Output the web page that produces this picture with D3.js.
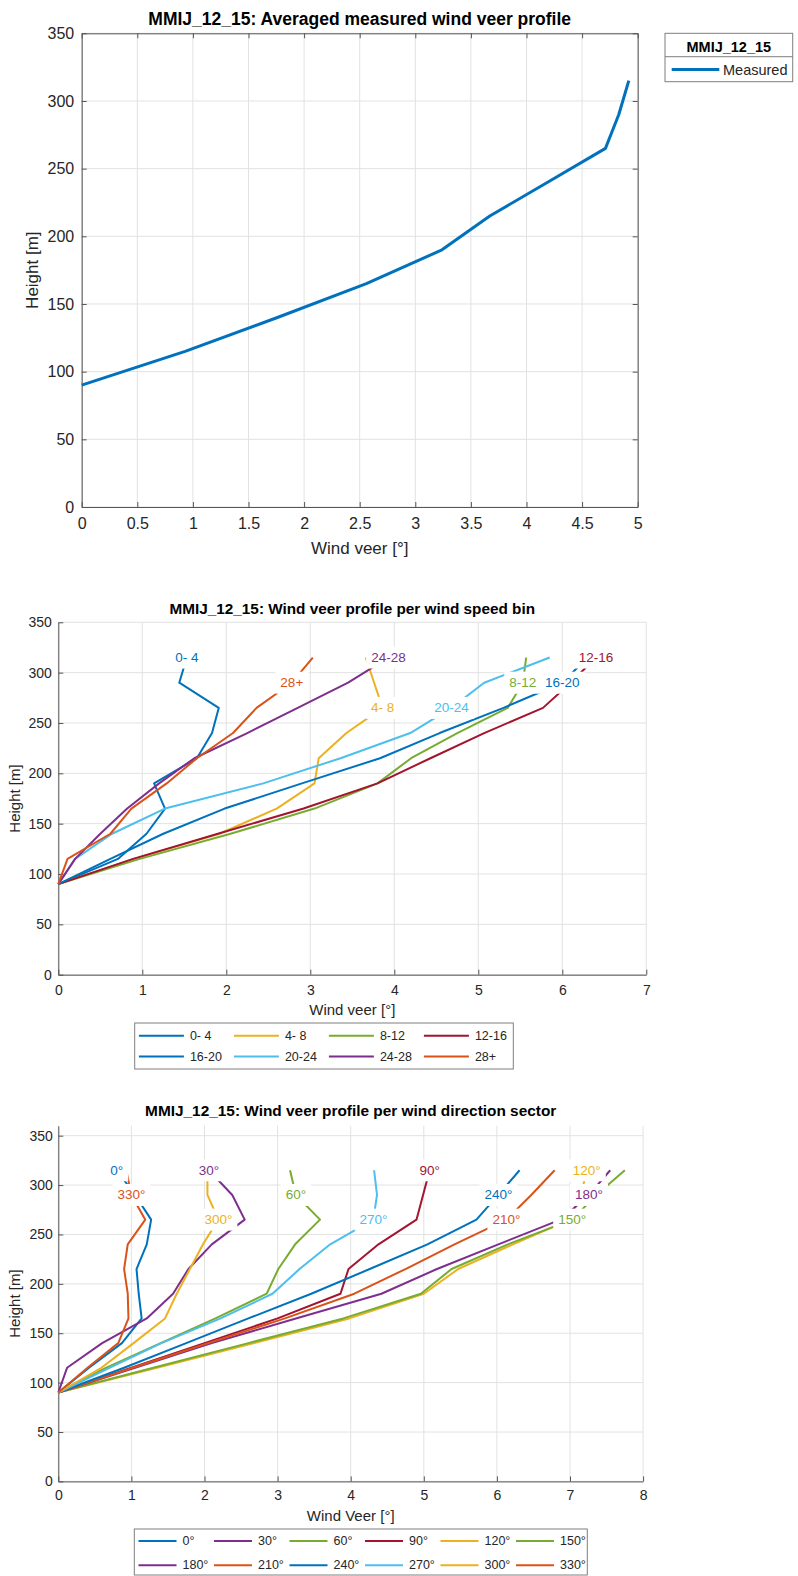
<!DOCTYPE html>
<html>
<head>
<meta charset="utf-8">
<script src="https://cdn.jsdelivr.net/npm/d3@7"></script>
<style>
  body { margin: 0; background: #fff; }
  svg { display: block; font-family: "Liberation Sans", Arial, Helvetica, sans-serif; }
</style>
</head>
<body>
<svg id="fig" width="798" height="1576"></svg>
<script>
// ---- measurement heights [m] ----
const heights = [90, 115, 140, 165, 190, 215, 240, 265, 290, 315];

// ---- averaged profile [deg] ----
const measuredVeer = [0, 0.93, 1.76, 2.56, 3.24, 3.67, 4.19, 4.71, 4.83, 4.92];

// ---- profiles per wind speed bin [deg] ----
const speedBins = ["0- 4", "4- 8", "8-12", "12-16", "16-20", "20-24", "24-28", "28+"];
const veerSpeed0_4   = [0, 0.71, 1.05, 1.27, 1.14, 1.65, 1.83, 1.91, 1.44, 1.53];
const veerSpeed4_8   = [0, 0.90, 1.92, 2.60, 3.05, 3.10, 3.43, 3.86, 3.76, 3.66];
const veerSpeed8_12  = [0, 0.97, 2.05, 3.05, 3.80, 4.20, 4.75, 5.35, 5.53, 5.57];
const veerSpeed12_16 = [0, 0.89, 1.90, 2.92, 3.80, 4.43, 5.07, 5.77, 6.10, 6.40];
const veerSpeed16_20 = [0, 0.62, 1.25, 1.98, 2.90, 3.83, 4.54, 5.30, 6.00, 6.30];
const veerSpeed20_24 = [0, 0.20, 0.64, 1.27, 2.44, 3.36, 4.19, 4.68, 5.07, 5.85];
const veerSpeed24_28 = [0, 0.20, 0.50, 0.82, 1.20, 1.62, 2.25, 2.85, 3.45, 3.93];
const veerSpeed28up  = [0, 0.11, 0.62, 0.87, 1.29, 1.65, 2.08, 2.36, 2.78, 3.03];
const speedLabelHeights = [315, 265, 290, 315, 290, 265, 315, 290];

// ---- profiles per wind direction sector [deg] ----
const sectors = ["0°", "30°", "60°", "90°", "120°", "150°", "180°", "210°", "240°", "270°", "300°", "330°"];
const veerDir0   = [0, 0.42, 0.87, 1.14, 1.10, 1.07, 1.21, 1.27, 1.05, 0.80];
const veerDir30  = [0, 0.12, 0.60, 1.21, 1.57, 1.78, 2.10, 2.55, 2.38, 2.06];
const veerDir60  = [0, 0.65, 1.40, 2.15, 2.85, 3.01, 3.24, 3.58, 3.25, 3.17];
const veerDir90  = [0, 1.00, 2.00, 3.00, 3.86, 3.97, 4.38, 4.90, 4.99, 5.08];
const veerDir120 = [0, 1.35, 2.68, 3.98, 5.00, 5.47, 6.22, 7.00, 7.15, 7.23];
const veerDir150 = [0, 1.30, 2.60, 3.90, 4.96, 5.38, 6.15, 7.03, 7.36, 7.75];
const veerDir180 = [0, 1.05, 2.10, 3.25, 4.42, 5.18, 6.02, 6.87, 7.26, 7.55];
const veerDir210 = [0, 1.02, 2.05, 3.10, 4.05, 4.75, 5.42, 6.13, 6.47, 6.79];
const veerDir240 = [0, 0.90, 1.75, 2.60, 3.46, 4.26, 5.05, 5.72, 6.02, 6.31];
const veerDir270 = [0, 0.70, 1.41, 2.22, 2.93, 3.30, 3.72, 4.31, 4.36, 4.32];
const veerDir300 = [0, 0.59, 1.03, 1.46, 1.62, 1.80, 1.98, 2.19, 2.04, 2.04];
const veerDir330 = [0, 0.40, 0.82, 0.96, 0.95, 0.90, 0.95, 1.19, 1.00, 0.93];
const sectorLabelHeights = [315, 315, 290, 315, 315, 265, 290, 265, 290, 265, 265, 290];

// ---- tick values ----
const ticksVeer5 = [0, 0.5, 1, 1.5, 2, 2.5, 3, 3.5, 4, 4.5, 5];
const ticksVeer7 = [0, 1, 2, 3, 4, 5, 6, 7];
const ticksVeer8 = [0, 1, 2, 3, 4, 5, 6, 7, 8];
const ticksHeight = [0, 50, 100, 150, 200, 250, 300, 350];

// ---- line colours ----
const col = {
  blue: "#0072BD", orange: "#D95319", yellow: "#EDB120", purple: "#7E2F8E",
  green: "#77AC30", cyan: "#4DBEEE", red: "#A2142F"
};

const speedSeries = [
  { name: speedBins[0], v: veerSpeed0_4,   c: col.blue },
  { name: speedBins[1], v: veerSpeed4_8,   c: col.yellow },
  { name: speedBins[2], v: veerSpeed8_12,  c: col.green },
  { name: speedBins[3], v: veerSpeed12_16, c: col.red },
  { name: speedBins[4], v: veerSpeed16_20, c: col.blue },
  { name: speedBins[5], v: veerSpeed20_24, c: col.cyan },
  { name: speedBins[6], v: veerSpeed24_28, c: col.purple },
  { name: speedBins[7], v: veerSpeed28up,  c: col.orange }
].map((s, i) => ({ ...s, lh: speedLabelHeights[i] }));

const sectorSeries = [
  { name: sectors[0],  v: veerDir0,   c: col.blue },
  { name: sectors[1],  v: veerDir30,  c: col.purple },
  { name: sectors[2],  v: veerDir60,  c: col.green },
  { name: sectors[3],  v: veerDir90,  c: col.red },
  { name: sectors[4],  v: veerDir120, c: col.yellow },
  { name: sectors[5],  v: veerDir150, c: col.green },
  { name: sectors[6],  v: veerDir180, c: col.purple },
  { name: sectors[7],  v: veerDir210, c: col.orange },
  { name: sectors[8],  v: veerDir240, c: col.blue },
  { name: sectors[9],  v: veerDir270, c: col.cyan },
  { name: sectors[10], v: veerDir300, c: col.yellow },
  { name: sectors[11], v: veerDir330, c: col.orange }
].map((s, i) => ({ ...s, lh: sectorLabelHeights[i] }));

const svg = d3.select("#fig");
svg.append("rect").attr("width", 798).attr("height", 1576).attr("fill", "#fff");

const AXIS = "#555", TXT = "#262626", GRID = "#e2e2e2";
const fmt = d => String(d);

// Draws one axes frame (grid, ticks, labels, title) and returns its scales.
function drawPanel(p) {
  const g = svg.append("g");
  const x = d3.scaleLinear().domain(p.xDomain).range([p.left, p.right]);
  const y = d3.scaleLinear().domain(p.yDomain).range([p.bottom, p.top]);

  // grid
  g.append("g").selectAll("line").data(p.xTicks).join("line")
    .attr("x1", d => x(d)).attr("x2", d => x(d))
    .attr("y1", p.top).attr("y2", p.bottom)
    .attr("stroke", GRID).attr("stroke-width", 1);
  g.append("g").selectAll("line").data(p.yTicks).join("line")
    .attr("x1", p.left).attr("x2", p.right)
    .attr("y1", d => y(d)).attr("y2", d => y(d))
    .attr("stroke", GRID).attr("stroke-width", 1);

  const styleAxis = sel => {
    sel.attr("font-family", null).attr("font-size", null);
    sel.selectAll(".domain").attr("stroke", AXIS);
    sel.selectAll(".tick line").attr("stroke", AXIS);
    sel.selectAll(".tick text").attr("fill", TXT).style("font-size", p.tickFont + "px");
  };

  g.append("g").attr("transform", `translate(0,${p.bottom})`)
    .call(d3.axisBottom(x).tickValues(p.xTicks).tickFormat(fmt)
      .tickSizeInner(-5).tickSizeOuter(0).tickPadding(p.xPad))
    .call(styleAxis);
  g.append("g").attr("transform", `translate(${p.left},0)`)
    .call(d3.axisLeft(y).tickValues(p.yTicks).tickFormat(fmt)
      .tickSizeInner(-5).tickSizeOuter(0).tickPadding(p.yPad))
    .call(styleAxis);

  if (p.box) {
    g.append("g").attr("transform", `translate(0,${p.top})`)
      .call(d3.axisTop(x).tickValues(p.xTicks).tickFormat("")
        .tickSizeInner(-5).tickSizeOuter(0))
      .call(styleAxis);
    g.append("g").attr("transform", `translate(${p.right},0)`)
      .call(d3.axisRight(y).tickValues(p.yTicks).tickFormat("")
        .tickSizeInner(-5).tickSizeOuter(0))
      .call(styleAxis);
  }

  // title and axis labels
  g.append("text").attr("x", (p.left + p.right) / 2).attr("y", p.titleY)
    .attr("text-anchor", "middle").attr("font-weight", "bold")
    .attr("font-size", p.titleFont).attr("fill", "#000").text(p.title);
  g.append("text").attr("x", (p.left + p.right) / 2).attr("y", p.xLabelY)
    .attr("text-anchor", "middle").attr("font-size", p.labelFont)
    .attr("fill", TXT).text(p.xLabel);
  g.append("text")
    .attr("transform", `translate(${p.yLabelX},${(p.top + p.bottom) / 2}) rotate(-90)`)
    .attr("text-anchor", "middle").attr("font-size", p.labelFont)
    .attr("fill", TXT).text("Height [m]");

  return { g, x, y };
}

function profileLine(x, y) {
  return d3.line().x(v => x(v)).y((v, i) => y(heights[i]));
}

// Text labels with a white background, placed on the series at a given height.
function drawLabels(g, x, y, series, fontSize) {
  const lg = g.append("g");
  series.forEach(s => {
    const idx = heights.indexOf(s.lh);
    const cx = x(s.v[idx]), cy = y(s.lh);
    const r = lg.append("rect").attr("fill", "#fff");
    const t = lg.append("text").attr("x", cx).attr("y", cy)
      .attr("text-anchor", "middle").attr("dominant-baseline", "central")
      .attr("font-size", fontSize).attr("fill", s.c).text(s.name);
    const b = t.node().getBBox();
    r.attr("x", b.x - 5).attr("y", b.y - 3.5).attr("width", b.width + 10).attr("height", b.height + 7);
  });
}

// Boxed legend laid out in rows and columns.
function drawLegend(series, o) {
  const g = svg.append("g");
  g.append("rect").attr("x", o.x).attr("y", o.y).attr("width", o.w).attr("height", o.h)
    .attr("fill", "#fff").attr("stroke", "#7f7f7f").attr("stroke-width", 1);
  series.forEach((s, i) => {
    const c = i % o.cols, r = Math.floor(i / o.cols);
    const lx = o.x0 + c * o.dx, ly = o.rows[r];
    g.append("line").attr("x1", lx).attr("x2", lx + o.len).attr("y1", ly).attr("y2", ly)
      .attr("stroke", s.c).attr("stroke-width", 2);
    g.append("text").attr("x", lx + o.tx).attr("y", ly).attr("dominant-baseline", "central")
      .attr("font-size", o.font).attr("fill", TXT).text(s.name);
  });
}

// ================= Panel 1: averaged profile =================
{
  const { g, x, y } = drawPanel({
    left: 81.7, right: 637.7, top: 33.3, bottom: 507,
    xDomain: [0, 5], yDomain: [0, 350], xTicks: ticksVeer5, yTicks: ticksHeight,
    box: true, tickFont: 16, labelFont: 17, titleFont: 17.5,
    xPad: 11, yPad: 7.5,
    title: "MMIJ_12_15: Averaged measured wind veer profile", titleY: 25,
    xLabel: "Wind veer [°]", xLabelY: 554, yLabelX: 37.5
  });
  g.append("path").datum(measuredVeer).attr("d", profileLine(x, y))
    .attr("fill", "none").attr("stroke", col.blue).attr("stroke-width", 3)
    .attr("stroke-linejoin", "round");

  const lg = svg.append("g");
  lg.append("rect").attr("x", 665).attr("y", 33.3).attr("width", 127.7).attr("height", 48.4)
    .attr("fill", "#fff").attr("stroke", "#7f7f7f");
  lg.append("line").attr("x1", 665).attr("x2", 792.7).attr("y1", 56.7).attr("y2", 56.7)
    .attr("stroke", "#7f7f7f");
  lg.append("text").attr("x", 728.8).attr("y", 52).attr("text-anchor", "middle")
    .attr("font-weight", "bold").attr("font-size", 14.5).attr("fill", "#000").text("MMIJ_12_15");
  lg.append("line").attr("x1", 671.7).attr("x2", 719.3).attr("y1", 69.5).attr("y2", 69.5)
    .attr("stroke", col.blue).attr("stroke-width", 3);
  lg.append("text").attr("x", 723).attr("y", 69.5).attr("dominant-baseline", "central")
    .attr("font-size", 14.5).attr("fill", TXT).text("Measured");
}

// ================= Panel 2: per wind speed bin =================
{
  const { g, x, y } = drawPanel({
    left: 58.3, right: 646.3, top: 622.3, bottom: 974.7,
    xDomain: [0, 7], yDomain: [0, 350], xTicks: ticksVeer7, yTicks: ticksHeight,
    box: false, tickFont: 14, labelFont: 15, titleFont: 15.3,
    xPad: 10, yPad: 6.5,
    title: "MMIJ_12_15: Wind veer profile per wind speed bin", titleY: 614.3,
    xLabel: "Wind veer [°]", xLabelY: 1015, yLabelX: 19.5
  });
  g.append("g").selectAll("path").data(speedSeries).join("path")
    .attr("d", s => profileLine(x, y)(s.v))
    .attr("fill", "none").attr("stroke", s => s.c).attr("stroke-width", 2)
    .attr("stroke-linejoin", "round");
  drawLabels(g, x, y, speedSeries, 13.5);
  drawLegend(speedSeries, {
    x: 134.7, y: 1023, w: 378.6, h: 46, cols: 4, x0: 138.9, dx: 95,
    rows: [1035.7, 1056.5], len: 45, tx: 51, font: 12.5
  });
}

// ================= Panel 3: per wind direction sector =================
{
  const { g, x, y } = drawPanel({
    left: 58.3, right: 643.1, top: 1125.8, bottom: 1481.4,
    xDomain: [0, 8], yDomain: [0, 360], xTicks: ticksVeer8, yTicks: ticksHeight,
    box: false, tickFont: 14, labelFont: 15, titleFont: 15.4,
    xPad: 9, yPad: 5.5,
    title: "MMIJ_12_15: Wind veer profile per wind direction sector", titleY: 1116.3,
    xLabel: "Wind Veer [°]", xLabelY: 1521, yLabelX: 19.5
  });
  g.append("g").selectAll("path").data(sectorSeries).join("path")
    .attr("d", s => profileLine(x, y)(s.v))
    .attr("fill", "none").attr("stroke", s => s.c).attr("stroke-width", 2)
    .attr("stroke-linejoin", "round");
  drawLabels(g, x, y, sectorSeries, 13.5);
  drawLegend(sectorSeries, {
    x: 134.3, y: 1529, w: 453, h: 46, cols: 6, x0: 138.5, dx: 75.5,
    rows: [1541, 1565.3], len: 38, tx: 44, font: 12.5
  });
}
</script>
</body>
</html>
